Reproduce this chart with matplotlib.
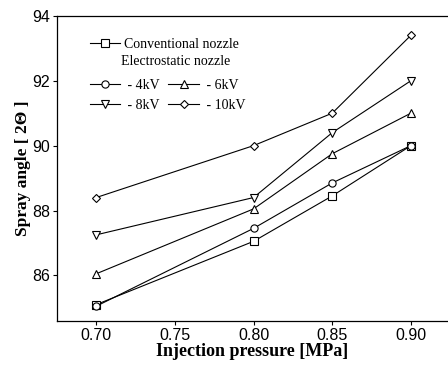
import matplotlib
matplotlib.use("Agg")
import matplotlib.pyplot as plt

# Injection pressure [MPa]
pressure = [0.70, 0.80, 0.85, 0.90]

conventional = [85.1, 87.05, 88.45, 90.0]
kv4 = [85.05, 87.45, 88.85, 90.0]
kv6 = [86.05, 88.05, 89.75, 91.0]
kv8 = [87.25, 88.4, 90.4, 92.0]
kv10 = [88.4, 90.0, 91.0, 93.4]

xticks = [0.70, 0.75, 0.80, 0.85, 0.90]
yticks = [86, 88, 90, 92, 94]

series = [
    ("Conventional nozzle", conventional, "s"),
    (" - 4kV", kv4, "o"),
    (" - 6kV", kv6, "^"),
    (" - 8kV", kv8, "v"),
    (" - 10kV", kv10, "D"),
]

fig = plt.figure(figsize=(4.48, 3.77), dpi=100)
ax = fig.add_axes([0.127, 0.149, 0.871, 0.809])

handles = {}
for label, vals, m in series:
    ms = 4.3 if m == "D" else 5.2
    (h,) = ax.plot(pressure, vals, color="black", linewidth=0.8,
                   marker=m, markersize=ms, markerfacecolor="white",
                   markeredgecolor="black", markeredgewidth=0.8,
                   label=label)
    handles[label] = h

ax.set_xlim(0.675, 0.923)
ax.set_ylim(84.6, 94)
ax.set_xticks(xticks)
ax.set_xticklabels([f"{t:.2f}" for t in xticks], family="Liberation Sans", fontsize=11.5)
ax.set_yticks(yticks)
ax.set_yticklabels([str(t) for t in yticks], family="Liberation Sans", fontsize=11.5)
ax.tick_params(direction="out", length=3, width=0.8, pad=2)
ax.spines["right"].set_visible(False)
for s in ("left", "bottom", "top"):
    ax.spines[s].set_linewidth(0.9)

ax.set_xlabel("Injection pressure [MPa]", family="Liberation Serif",
              fontweight="bold", fontsize=13, labelpad=0)
ax.set_ylabel("Spray angle [ 2\u0398 ]", family="Liberation Serif",
              fontweight="bold", fontsize=12.5, labelpad=1)

legfont = {"family": "Liberation Serif", "size": 10}
leg1 = ax.legend(handles=[handles["Conventional nozzle"]], loc="upper left",
                 bbox_to_anchor=(0.07, 0.945), frameon=False, prop=legfont,
                 handlelength=2.2, handletextpad=0.3, borderaxespad=0)
ax.add_artist(leg1)
ax.text(0.165, 0.849, "Electrostatic nozzle", transform=ax.transAxes,
        fontdict=legfont, va="center")
# column-wise fill: first column 4kV, 8kV; second column 6kV, 10kV
ax.legend(handles=[handles[" - 4kV"], handles[" - 8kV"],
                   handles[" - 6kV"], handles[" - 10kV"]],
          loc="upper left", bbox_to_anchor=(0.07, 0.812), frameon=False,
          prop=legfont, ncol=2, handlelength=2.2, handletextpad=0.3,
          columnspacing=0.6, borderaxespad=0, labelspacing=0.5)

fig.savefig("out.png", dpi=100)
